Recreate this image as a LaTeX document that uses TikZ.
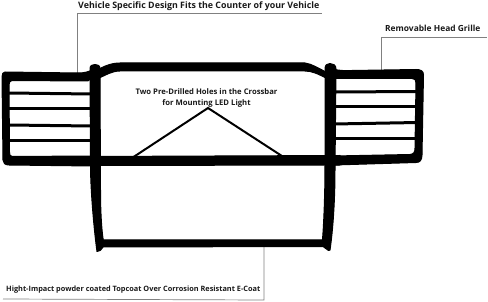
\documentclass[tikz,border=0pt]{standalone}
\usepackage{fontspec}
\setmainfont{Open Sans}
\tikzset{
  bar/.style={fill=black,draw=black,line width=1pt,line join=round},
  slat/.style={draw=black,line width=3pt},
  strut/.style={draw=black,line width=2pt},
  leader/.style={draw=black!50,line width=0.7pt},
  callout/.style={font=\bfseries\selectfont,text=black!90,inner sep=0pt,align=center}
}
\begin{document}
\begin{tikzpicture}[x=1pt,y=-1pt]
\useasboundingbox (0,0) rectangle (488,302);

% Callout texts
\node[callout,anchor=base west] (design) at (78,8.5) {\fontsize{8.85pt}{10pt}\selectfont Vehicle Specific Design Fits the Counter of your Vehicle};
\node[callout,anchor=base west] (grille) at (385,32) {\fontsize{8.4pt}{10pt}\selectfont Removable Head Grille};
\node[callout,anchor=base west] (coat) at (6,291) {\fontsize{7.35pt}{9pt}\selectfont Hight-Impact powder coated Topcoat Over Corrosion Resistant E-Coat};
\node[callout,font=\bfseries\fontsize{7.7pt}{11pt}\selectfont] (holes) at (206.5,98.5) {Two Pre-Drilled Holes in the Crossbar\\for Mounting LED Light};

% Anchor points on the guard and ends of the leaders
\coordinate (designFoot) at (77,73);
\coordinate (designBend) at (77,13);
\coordinate (designEnd) at (322,13);
\coordinate (grilleFoot) at (381,71);
\coordinate (grilleBend) at (381,37);
\coordinate (grilleEnd) at (487,37);
\coordinate (coatFoot) at (264,246);
\coordinate (coatBend) at (264,300);
\coordinate (coatEnd) at (3,299);

% Leaders
\draw[leader] (designFoot) -- (designBend) -- (designEnd);
\draw[leader] (grilleFoot) -- (grilleBend) -- (grilleEnd);
\draw[leader] (coatFoot) -- (coatBend) -- (coatEnd);

% Struts under the crossbar
\coordinate (strutL) at (132,158);
\coordinate (strutTop) at (208,108);
\coordinate (strutR) at (285,158);
\draw[strut,line join=miter] (strutL) -- (strutTop) -- (strutR);

% Left grille slats
\draw[slat] (8,93) -- (92,94);
\draw[slat] (8,109) -- (92,109);
\draw[slat] (8,125) -- (92,126);
\draw[slat] (8,141) -- (92,141);

% Right grille slats
\draw[slat] (334,92) -- (418,91.5);
\draw[slat] (334,107) -- (418,107);
\draw[slat] (334,124) -- (418,122.5);
\draw[slat] (334,139) -- (418,139);

% Left grille frame
\path[bar,even odd rule]
  (5,72) .. controls (3,72) and (2,74) .. (2,77)
  -- (3,160) .. controls (3,163) and (5,165) .. (9,165)
  -- (92,166) -- (92,156) -- (12,156.5)
  .. controls (10,156) and (9.5,155) .. (9.5,152)
  -- (9,85) .. controls (9,82) and (10,81) .. (12,80.5)
  -- (88,81) .. controls (91,80) and (92,78) .. (92,70)
  .. controls (88,72) and (84,73) .. (78,73) -- cycle;

% Right grille frame
\path[bar]
  (333,69) .. controls (340,71) and (345,70.5) .. (352,70.5)
  -- (416,69.5) .. controls (421,69.5) and (423.5,71) .. (423.5,75)
  -- (422,155) .. controls (422,160) and (420,162.5) .. (416,162.5)
  -- (334,165) -- (334,156) -- (410,154.5)
  .. controls (414,154) and (415,152) .. (415,148)
  -- (416,83) .. controls (416,80) and (415,78.5) .. (412,78.5)
  -- (334,78.5) -- cycle;

% Top hoop
\path[bar]
  (97,70) .. controls (103,67) and (110,63) .. (120,63)
  -- (305,63) .. controls (312,64) and (318,68) .. (326,72)
  -- (326,78) .. controls (318,74) and (312,71) .. (305,71)
  -- (120,71) .. controls (112,71) and (106,75) .. (97,79) -- cycle;

% Crossbar
\path[bar] (90,156.5) -- (340,155.5) -- (340,165) -- (90,165.5) -- cycle;

% Lower loop bar
\path[bar] (98,240) -- (328,240) -- (328,246.5) -- (98,247) -- cycle;

% Left upright
\path[bar]
  (90,69) .. controls (90,65.5) and (92,64.5) .. (95,64.5)
  .. controls (98,64.5) and (100,65.5) .. (100,69)
  -- (100.5,190) .. controls (100.5,215) and (102,235) .. (104,244)
  -- (103,247) .. controls (101,250) and (99,252) .. (97,251.5)
  .. controls (94,230) and (90.5,190) .. (90.5,165) -- cycle;

% Right upright
\path[bar]
  (325,69) .. controls (325,65) and (327,63.5) .. (330,63.5)
  .. controls (333,63.5) and (336,65) .. (336,69)
  -- (335,170) .. controls (335,200) and (333,230) .. (330,250)
  -- (328.5,250.5) .. controls (326,249) and (323,246.5) .. (322,245)
  .. controls (324,225) and (325,190) .. (325,165) -- cycle;
\end{tikzpicture}
\end{document}
